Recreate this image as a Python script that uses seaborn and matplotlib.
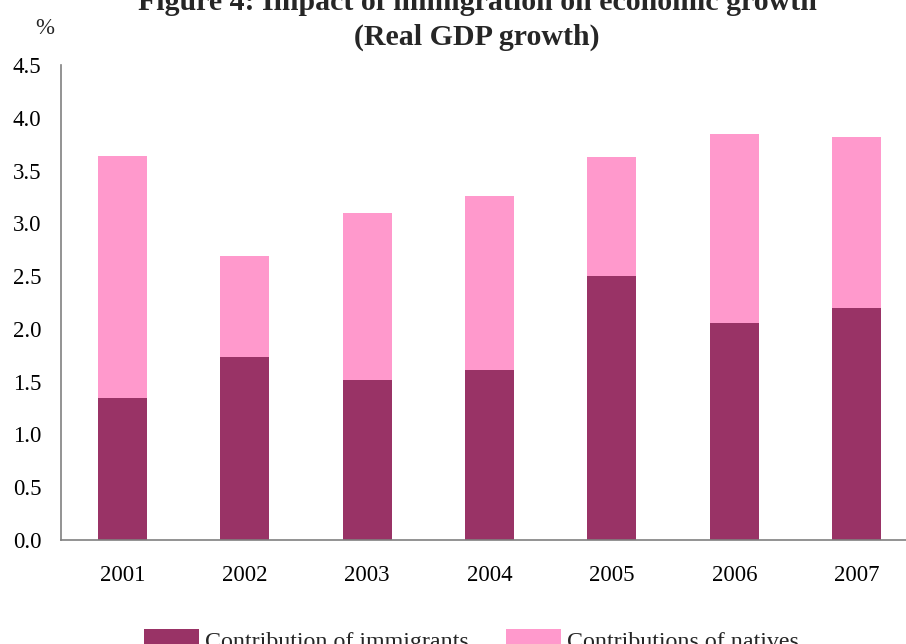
import matplotlib
matplotlib.use("Agg")
import matplotlib.pyplot as plt
from matplotlib.patches import Patch
import numpy as np
import pandas as pd
import seaborn as sns

years = ["2001", "2002", "2003", "2004", "2005", "2006", "2007"]
immigrants = [1.35, 1.73, 1.52, 1.61, 2.50, 2.06, 2.20]
natives = [2.29, 0.96, 1.58, 1.65, 1.13, 1.79, 1.62]
y_ticks = [0.0, 0.5, 1.0, 1.5, 2.0, 2.5, 3.0, 3.5, 4.0, 4.5]

dark = "#993366"
pink = "#FF99CC"
axis_grey = "#808080"

df = pd.DataFrame({"year": years, "immigrants": immigrants, "natives": natives})
df["total"] = df["immigrants"] + df["natives"]

sns.set_theme(style="white")
plt.rcParams["font.family"] = ["Liberation Serif", "DejaVu Serif"]

fig = plt.figure(figsize=(9.06, 6.44), dpi=100)
ax = fig.add_axes([61 / 906, 1 - 540 / 644, 857 / 906, 475 / 644])

# natives stacked on top of immigrants: draw the total, then the lower part
sns.barplot(data=df, x="year", y="total", color=pink, saturation=1,
            width=0.4, linewidth=0, edgecolor="none", ax=ax)
sns.barplot(data=df, x="year", y="immigrants", color=dark, saturation=1,
            width=0.4, linewidth=0, edgecolor="none", ax=ax)

ax.set_xlim(-0.5, len(years) - 0.5)
ax.set_ylim(0, 4.5)
ax.set_yticks(y_ticks)
ax.set_yticklabels([f"{v:.1f}" for v in y_ticks], fontsize=16.5, color="black")
ax.set_xticks(range(len(years)))
ax.set_xticklabels(years, fontsize=16.5, color="black")
ax.set_xticks(np.arange(-0.5, len(years) + 0.5, 1.0), minor=True)
ax.tick_params(axis="x", which="major", length=0, pad=18)
ax.tick_params(axis="x", which="minor", length=7, width=1, color=axis_grey,
               direction="out")
ax.tick_params(axis="y", which="major", length=7, width=1, color=axis_grey,
               direction="in", pad=14)
ax.set_xlabel("")
ax.set_ylabel("")

for side in ["top", "right"]:
    ax.spines[side].set_visible(False)
for side in ["left", "bottom"]:
    ax.spines[side].set_color(axis_grey)
    ax.spines[side].set_linewidth(1.2)

fig.text(477 / 906, 1 - 10 / 644, "Figure 4: Impact of immigration on economic growth",
         ha="center", va="baseline", fontsize=21.5, fontweight="bold")
fig.text(477 / 906, 1 - 45 / 644, "(Real GDP growth)",
         ha="center", va="baseline", fontsize=21.5, fontweight="bold")
fig.text(45 / 906, 1 - 28 / 644, "%", ha="center", va="center", fontsize=16.5)

handles = [Patch(facecolor=dark, edgecolor="none", label="Contribution of immigrants"),
           Patch(facecolor=pink, edgecolor="none", label="Contributions of natives")]
fig.legend(handles=handles, loc="upper center", ncol=2,
           bbox_to_anchor=(471.5 / 906, 1 - 617 / 644), frameon=False,
           fontsize=17.3, handlelength=2.29, handleheight=1.0,
           handletextpad=0.25, columnspacing=1.54, borderpad=0)

fig.savefig("out.png", dpi=100)
